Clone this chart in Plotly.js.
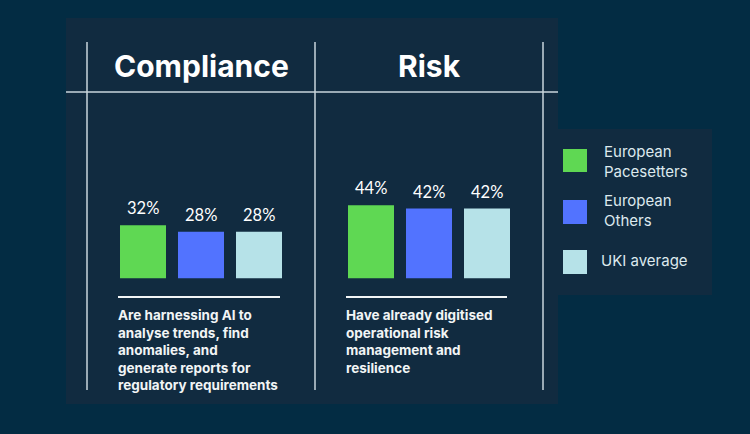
<!DOCTYPE html>
<html><head><meta charset="utf-8">
<script src="https://cdn.plot.ly/plotly-3.0.1.min.js"></script>
<style>html,body{margin:0;padding:0;background:#032c43}#c{width:750px;height:434px}</style></head>
<body><div id="c"></div>
<script>
const categories = ['Compliance', 'Risk'];
const pacesetters = [32, 44];
const others = [28, 42];
const uki = [28, 42];
const seriesNames = ['European Pacesetters', 'European Others', 'UKI average'];
const legendLabels = ['European<br>Pacesetters', 'European<br>Others', 'UKI average'];
const colors = ['#5FD853', '#5273FF', '#B6E2E8'];
const captions = [
  'Are harnessing AI to<br>analyse trends, find<br>anomalies, and<br>generate reports for<br>regulatory requirements',
  'Have already digitised<br>operational risk<br>management and<br>resilience'
];

const W = 750, H = 434;
const px = v => v / W, py = v => 1 - v / H;
const FONT = 'Inter, sans-serif';
const LEGFONT = 'Inter, sans-serif';
const LABFONT = 'Lato, sans-serif';
const LINE = '#c9d6dc';
const PANEL = '#112B40';

const allSeries = [pacesetters, others, uki];
const traces = allSeries.map((vals, i) => ({
  type: 'bar', x: categories, y: vals, name: seriesNames[i],
  marker: {color: colors[i], line: {width: 0}},
  hoverinfo: 'name+y', showlegend: false
}));

const rect = (x0, x1, y0, y1, fill) => ({type: 'rect', xref: 'paper', yref: 'paper', layer: 'below',
  x0: px(x0), x1: px(x1), y0: py(y1), y1: py(y0), fillcolor: fill, line: {width: 0}});
const line = (x0, x1, y0, y1, color, w) => ({type: 'line', xref: 'paper', yref: 'paper', layer: 'above',
  x0: px(x0), x1: px(x1), y0: py(y0), y1: py(y1), line: {color, width: w}});

const shapes = [
  rect(66, 558, 18, 404, PANEL),
  rect(558, 712, 129, 295, PANEL),
  line(66, 558, 92, 92, LINE, 1.5),
  line(87, 87, 42, 390, LINE, 1.5),
  line(315, 315, 42, 390, LINE, 1.5),
  line(543, 543, 42, 390, LINE, 1.5),
  line(118, 280, 297, 297, '#f2f5f6', 2),
  line(346, 507, 297, 297, '#f2f5f6', 2)
];
const swatchY = [[149, 172], [200, 224], [250, 274]];
swatchY.forEach((s, i) => shapes.push(rect(563, 587, s[0], s[1], colors[i])));

const annotations = [];
categories.forEach(c => annotations.push({
  xref: 'x', yref: 'paper', x: c, y: py(66), text: '<b>' + c + '</b>', showarrow: false,
  xanchor: 'center', yanchor: 'middle',
  font: {family: FONT, size: 30, color: '#ffffff'}
}));
allSeries.forEach((vals, i) => vals.forEach((v, j) => annotations.push({
  xref: 'x', yref: 'y', x: categories[j], y: v, xshift: (i - 1) * 58, yshift: 5,
  text: v + '%', showarrow: false, xanchor: 'center', yanchor: 'bottom',
  font: {family: LABFONT, size: 16.5, color: '#ffffff'}
})));
captions.forEach((t, i) => annotations.push({
  xref: 'paper', yref: 'paper', x: px([116.5, 344.5][i]), y: py(305.5), text: '<b>' + t + '</b>',
  showarrow: false, xanchor: 'left', yanchor: 'top', align: 'left',
  font: {family: FONT, size: 13.5, color: '#f2f5f6'}, borderpad: 0
}));
[161, 211, 260].forEach((y, i) => annotations.push({
  xref: 'paper', yref: 'paper', x: px(i === 2 ? 600 : 603), y: py(y), text: legendLabels[i],
  showarrow: false, xanchor: 'left', yanchor: 'middle', align: 'left',
  font: {family: LEGFONT, size: 15, color: '#dde9ee'}, borderpad: 0
}));

Plotly.newPlot('c', traces, {
  width: W, height: H,
  margin: {l: 0, r: 0, t: 0, b: 0},
  paper_bgcolor: '#032c43', plot_bgcolor: 'rgba(0,0,0,0)',
  barmode: 'group', bargap: 54 / 228, bargroupgap: 12 / 58,
  showlegend: false,
  xaxis: {domain: [px(87), px(543)], range: [-0.5, 1.5], type: 'category', categoryorder: 'array',
    categoryarray: categories, visible: false, fixedrange: true},
  yaxis: {domain: [py(278.5), py(178.5)], range: [0, 60], visible: false, fixedrange: true},
  shapes, annotations
}, {displayModeBar: false, staticPlot: true});
</script></body></html>
